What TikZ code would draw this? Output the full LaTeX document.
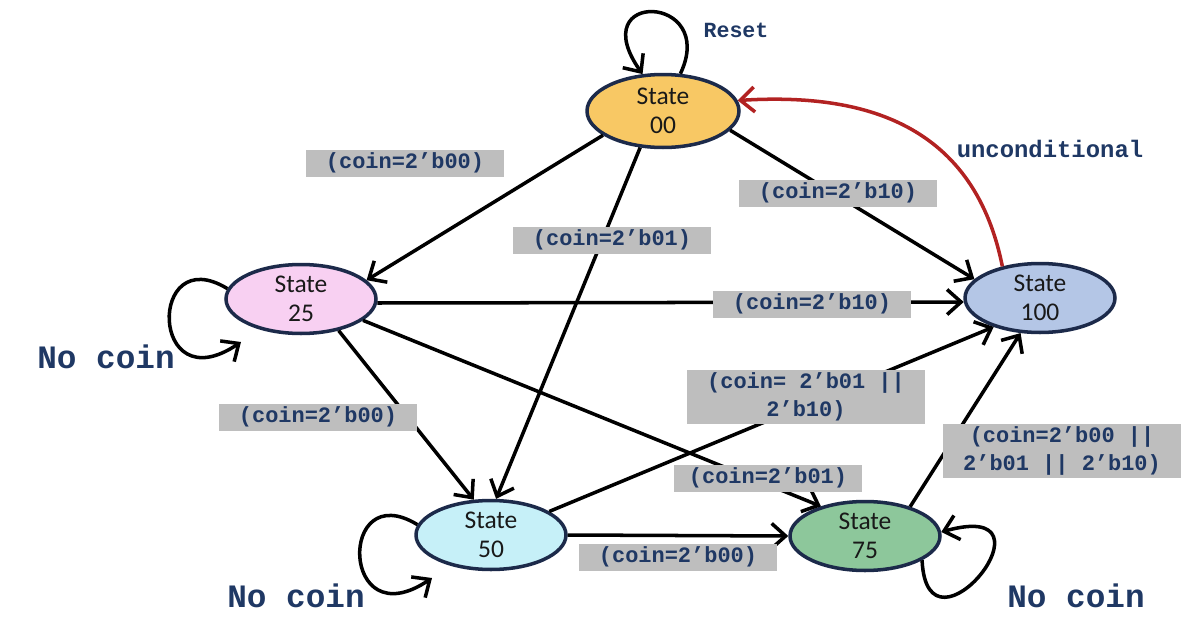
\documentclass[tikz,border=0pt]{standalone}
\usepackage{fontspec}
\setmainfont{Carlito}
\newfontfamily\cmono{Liberation Mono}
\usetikzlibrary{shapes.geometric,arrows.meta,calc}
\definecolor{navy}{HTML}{1F3864}
\definecolor{rim}{HTML}{1C2A4A}
\definecolor{boxgray}{HTML}{BEBEBE}
\definecolor{darkred}{HTML}{B22222}
\definecolor{c00}{HTML}{F8C864}
\definecolor{c25}{HTML}{F8D0F2}
\definecolor{c100}{HTML}{B4C6E6}
\definecolor{c50}{HTML}{C6F0F8}
\definecolor{c75}{HTML}{8DC79B}
\tikzset{
  statebox/.style={ellipse, draw=rim, line width=2pt, minimum width=3.0cm, minimum height=1.38cm,
    inner sep=0pt, align=center, text=black!90, font=\fontsize{14.5}{16.5}\selectfont},
  condbox/.style={fill=boxgray, text=navy, align=center, inner xsep=0.4cm, inner ysep=0.05cm,
    minimum height=0.54cm, font=\cmono\bfseries\fontsize{12.5}{16}\selectfont},
  edge/.style={line width=2pt, -{Straight Barb[length=0.28cm,width=0.5cm,line width=2pt]}},
  freetext/.style={text=navy, font=\cmono\bfseries\fontsize{18.6}{20}\selectfont},
}
\begin{document}
\begin{tikzpicture}[x=0.02cm,y=-0.02cm]
\useasboundingbox (0,0) rectangle (1191,619);
% states
\node[statebox, fill=c00, minimum width=3.04cm, minimum height=1.46cm] (s00) at (663,111) {State\\00};
\node[statebox, fill=c25] (s25) at (301,299) {State\\25};
\node[statebox, fill=c100] (s100) at (1040,298) {State\\100};
\node[statebox, fill=c50] (s50) at (491,535) {State\\50};
\node[statebox, fill=c75] (s75) at (865,536) {State\\75};
% transitions
\draw[edge] (s00.202) -- (s25.16);
\draw[edge] (s00.238) -- (s50.82);
\draw[edge] (s00.344) -- (s100.164);
\draw[edge] (s25.357) -- (s100.183);
\draw[edge] (s25.320) -- (s50.116);
\draw[edge] (s25.341) -- (s75.146);
\draw[edge] (s50.22) -- (s100.212);
\draw[edge] (s50.0) -- (s75.180);
\draw[edge] (s75.33) -- (s100.241);
\draw[edge, draw=darkred]
  (s100.140) .. controls +(-30,-150) and +(115,-7) .. (s00.8);
% self loops
\draw[edge] (s00.65) .. controls +(38,-80) and +(-60,-85) .. (s00.119);
\draw[edge] (s25.172) .. controls +(-80,-49) and +(-92,62) .. ($(s25)+(-60,43)$);
\draw[edge] (s50.172) .. controls +(-80,-49) and +(-92,62) .. ($(s50)+(-59,43)$);
\draw[edge] (s75.337) .. controls +(5,110) and +(125,-35) .. (s75.3);
% condition labels
\node[condbox] (l1) at (405,163) {(coin=2’b00)};
\node[condbox] (l2) at (612,240) {(coin=2’b01)};
\node[condbox] (l3) at (838,193) {(coin=2’b10)};
\node[condbox] (l4) at (812,304) {(coin=2’b10)};
\node[condbox] (l5) at (318,417) {(coin=2’b00)};
\node[condbox] (l6) at (806,397) {(coin= 2’b01 ||\\2’b10)};
\node[condbox, inner xsep=0.3cm] (l7) at (768,478) {(coin=2’b01)};
\node[condbox] (l8) at (1062,451) {(coin=2’b00 ||\\2’b01 || 2’b10)};
\node[condbox] (l9) at (678,557) {(coin=2’b00)};
% other texts
\node[text=navy, font=\cmono\bfseries\fontsize{12.3}{14}\selectfont] (reset) at (736,30) {Reset};
\node[text=navy, font=\cmono\bfseries\fontsize{13.6}{15}\selectfont] (uncond) at (1050,149) {unconditional};
\node[freetext] (nc25) at (106,357) {No coin};
\node[freetext] (nc50) at (296,596) {No coin};
\node[freetext] (nc75) at (1076,596) {No coin};
\end{tikzpicture}
\end{document}
